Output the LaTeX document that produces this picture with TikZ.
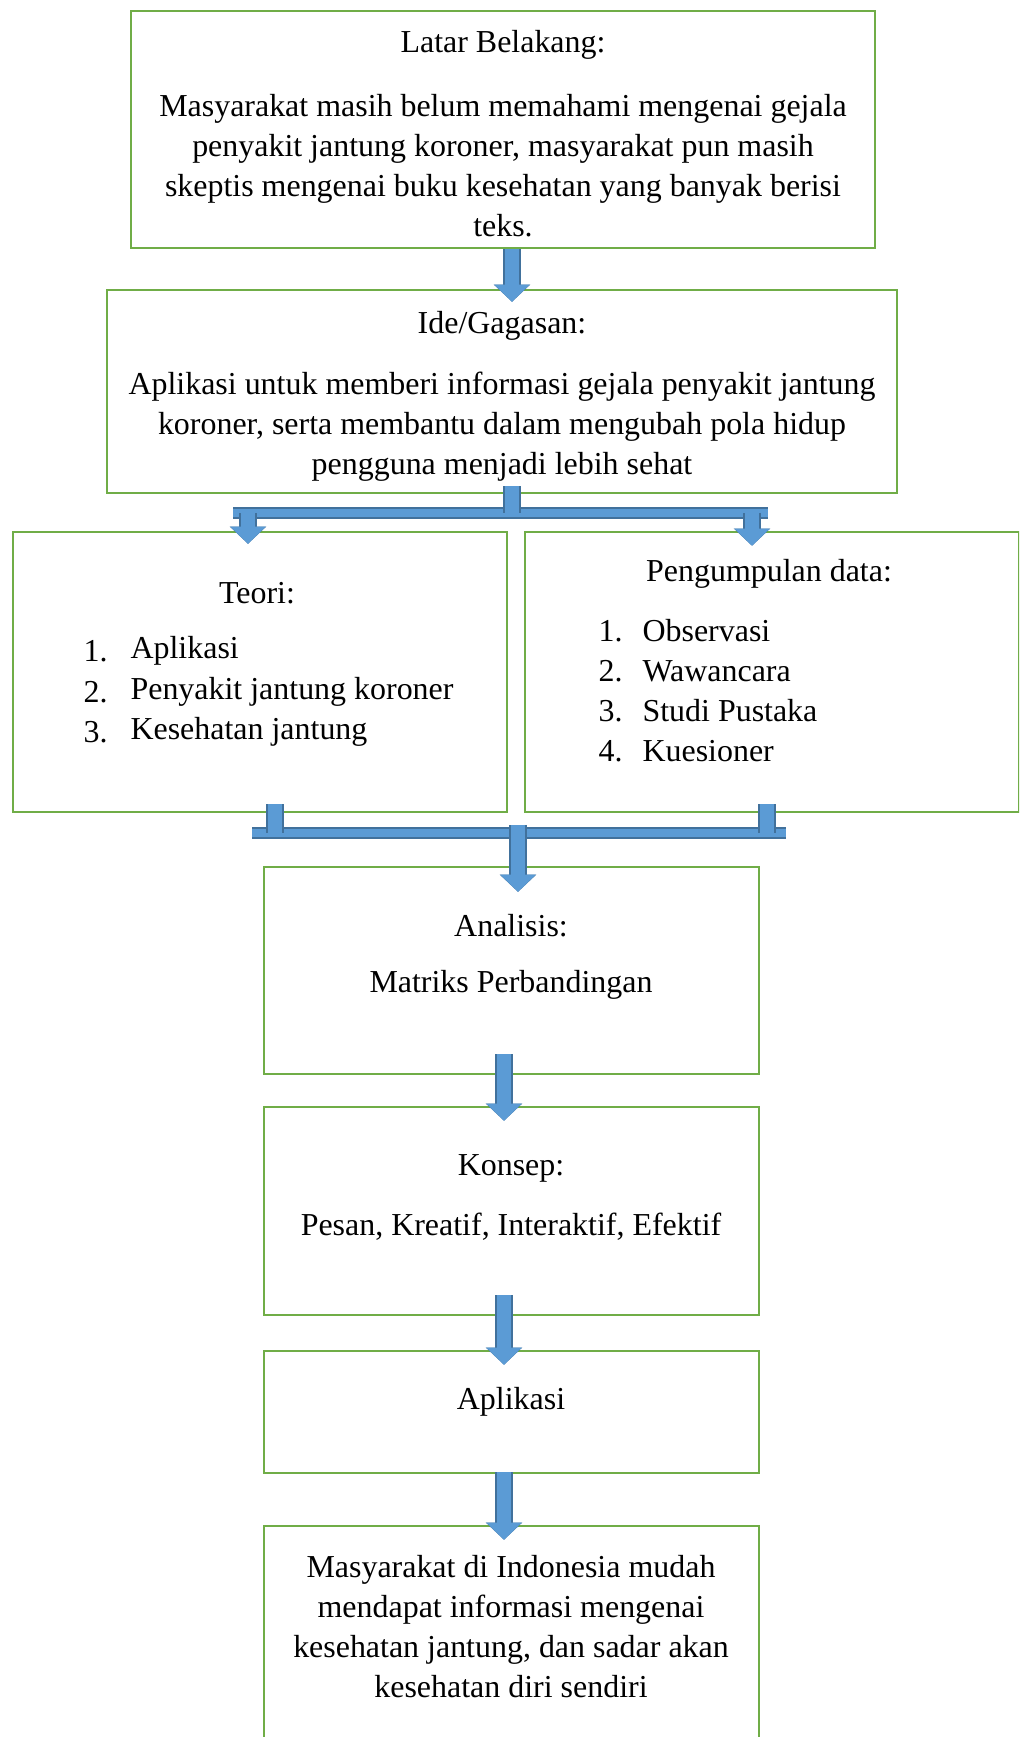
\documentclass[tikz,border=0pt]{standalone}
\usepackage{fontspec}
\setmainfont{Liberation Serif}
\usetikzlibrary{arrows.meta,fit}

\definecolor{boxgreen}{HTML}{70AD47}
\definecolor{arrowfill}{HTML}{5B9BD5}
\definecolor{arrowedge}{HTML}{41719C}

\tikzset{
  box/.style={draw=boxgreen, line width=0.9pt, inner sep=0pt},
  txt/.style={inner sep=0pt, align=center, font=\fontsize{11.5}{14.4}\selectfont},
  blockarrow/.style={draw=arrowfill, line width=5.2pt,
    -{Triangle[width=12.8pt,length=6.2pt,line width=0pt]},
    preaction={draw=arrowedge, line width=6.8pt,
      -{Triangle[width=12.8pt,length=6.2pt,line width=1.6pt]}}},
  stub/.style={draw=arrowfill, line width=5.2pt,
    preaction={draw=arrowedge, line width=6.8pt}},
  bar/.style={draw=arrowfill, line width=2.6pt,
    preaction={draw=arrowedge, line width=4.2pt}},
}

\begin{document}
\begin{tikzpicture}[x=0.36pt, y=-0.36pt]
        \useasboundingbox (0,0) rectangle (1019,1737);
        \clip (0,0) rectangle (1019,1737);

        % boxes
        \node [box, fit={(131,11) (875,248)}]   (latar)    {};
        \node [box, fit={(107,290) (897,493)}]  (ide)      {};
        \node [box, fit={(13,532) (507,812)}]   (teori)    {};
        \node [box, fit={(525,532) (1019,812)}] (data)     {};
        \node [box, fit={(264,867) (759,1074)}] (analisis) {};
        \node [box, fit={(264,1107) (759,1315)}](konsep)   {};
        \node [box, fit={(264,1351) (759,1473)}](aplikasi) {};
        \node [box, fit={(264,1526) (759,1745)}](hasil)    {};

        % latar belakang
        \node [txt] (latarT) at (503,45)  {Latar Belakang:};
        \node [txt] (latarP) at (503,166) {Masyarakat masih belum memahami mengenai gejala\\
                                           penyakit jantung koroner, masyarakat pun masih\\
                                           skeptis mengenai buku kesehatan yang banyak berisi\\
                                           teks.};
        % ide
        \node [txt] (ideT) at (502,326) {Ide/Gagasan:};
        \node [txt] (ideP) at (502,427) {Aplikasi untuk memberi informasi gejala penyakit jantung\\
                                         koroner, serta membantu dalam mengubah pola hidup\\
                                         pengguna menjadi lebih sehat};
        % teori
        \node [txt] (teoriT) at (257,593) {Teori:};
        \node [txt, anchor=west] at (83,651)  {1.};
        \node [txt, anchor=west] at (130,651) {Aplikasi};
        \node [txt, anchor=west] at (83,692)  {2.};
        \node [txt, anchor=west] at (130,692) {Penyakit jantung koroner};
        \node [txt, anchor=west] at (83,732)  {3.};
        \node [txt, anchor=west] at (130,732) {Kesehatan jantung};
        % pengumpulan data
        \node [txt] (dataT) at (769,574) {Pengumpulan data:};
        \node [txt, anchor=west] at (598,631) {1.};
        \node [txt, anchor=west] at (642,631) {Observasi};
        \node [txt, anchor=west] at (598,671) {2.};
        \node [txt, anchor=west] at (642,671) {Wawancara};
        \node [txt, anchor=west] at (598,711) {3.};
        \node [txt, anchor=west] at (642,711) {Studi Pustaka};
        \node [txt, anchor=west] at (598,751) {4.};
        \node [txt, anchor=west] at (642,751) {Kuesioner};
        % analisis, konsep, aplikasi, hasil
        \node [txt] (analisisT) at (511,926)  {Analisis:};
        \node [txt] (analisisP) at (511,985)  {Matriks Perbandingan};
        \node [txt] (konsepT)   at (511,1168) {Konsep:};
        \node [txt] (konsepP)   at (511,1227) {Pesan, Kreatif, Interaktif, Efektif};
        \node [txt] (aplikasiT) at (511,1402) {Aplikasi};
        \node [txt] (hasilP)    at (511,1627) {Masyarakat di Indonesia mudah\\
                                               mendapat informasi mengenai\\
                                               kesehatan jantung, dan sadar akan\\
                                               kesehatan diri sendiri};

        % connector points
        \coordinate (split)  at (512,513);
        \coordinate (splitL) at (233,513);
        \coordinate (splitR) at (768,513);
        \coordinate (joinL)  at (252,833);
        \coordinate (joinR)  at (786,833);
        \coordinate (join)   at (518,833);
        \coordinate (chain)  at (504,0);

        % arrows
        \draw [blockarrow, shorten >=-4.7pt] (latar.south -| split) -- (ide.north -| split);
        \draw [bar]  (splitL) -- (splitR);
        \draw [stub] ([yshift=2.9pt]ide.south -| split) -- (split);
        \draw [blockarrow, shorten >=-4.7pt] (248,513) -- (teori.north -| 248,0);
        \draw [blockarrow, shorten >=-5.4pt] (752,513) -- (data.north -| 752,0);
        \draw [bar]  (joinL) -- (joinR);
        \draw [stub] ([yshift=3.2pt]teori.south -| 275,0) -- (275,833);
        \draw [stub] ([yshift=3.2pt]data.south -| 767,0)  -- (767,833);
        \draw [blockarrow, shorten >=-9.4pt] ([yshift=2.9pt]join) -- (analisis.north -| join);
        \draw [blockarrow, shorten >=-5.4pt] ([yshift=7.6pt]analisis.south -| chain) -- (konsep.north -| chain);
        \draw [blockarrow, shorten >=-5.4pt] ([yshift=7.6pt]konsep.south -| chain)   -- (aplikasi.north -| chain);
        \draw [blockarrow, shorten >=-5.4pt] ([yshift=0.7pt]aplikasi.south -| chain)  -- (hasil.north -| chain);
\end{tikzpicture}
\end{document}
